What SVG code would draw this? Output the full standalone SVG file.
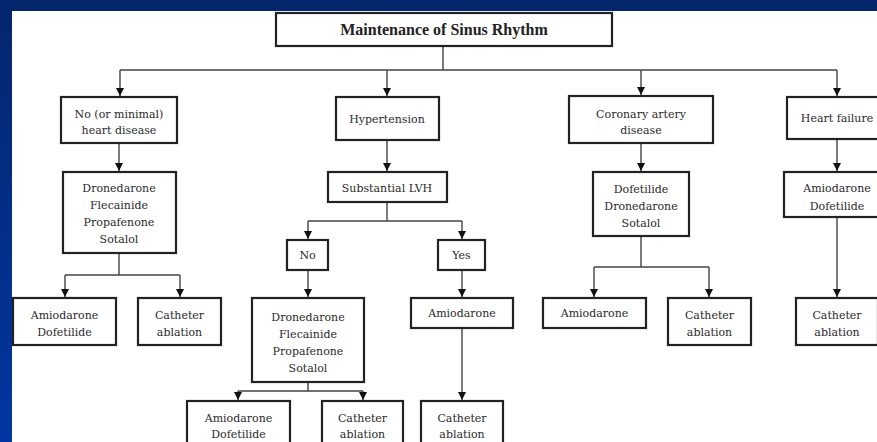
<svg xmlns="http://www.w3.org/2000/svg" width="877" height="442" viewBox="0 0 877 442">
<defs>
<linearGradient id="lg" x1="0" y1="0" x2="0" y2="1">
<stop offset="0" stop-color="#03266c"/>
<stop offset="1" stop-color="#0236a2"/>
</linearGradient>
<marker id="ar" markerUnits="userSpaceOnUse" markerWidth="8" markerHeight="8" refX="8" refY="4" orient="auto" viewBox="0 0 8 8">
<path d="M0,0 L8,4 L0,8 Z" fill="#111"/>
</marker>
<style>
.box{fill:#fff;stroke:#222;stroke-width:2.2}
.t{font-family:"DejaVu Serif","Liberation Serif",serif;font-size:11px;fill:#2a2a2a;text-anchor:middle}
.title{font-family:"Liberation Serif","Times New Roman",serif;font-size:16px;font-weight:bold;fill:#222;text-anchor:middle}
.c{fill:none;stroke:#444;stroke-width:1.4}
.a{marker-end:url(#ar)}
</style>
</defs>
<rect x="0" y="0" width="877" height="442" fill="url(#lg)"/>
<rect x="0" y="0" width="877" height="11" fill="#03266c"/>
<rect x="12" y="11" width="865" height="431" fill="#fff"/>

<g id="connectors">
<path class="c" d="M443,46 V70 M120,70 H837"/>
<path class="c a" d="M120,70 V96"/>
<path class="c a" d="M387,70 V96"/>
<path class="c a" d="M641,70 V95"/>
<path class="c a" d="M837,70 V96"/>
<path class="c a" d="M119,143 V171"/>
<path class="c" d="M119,253 V275 M65,275 H180"/>
<path class="c a" d="M65,275 V297"/>
<path class="c a" d="M180,275 V297"/>
<path class="c a" d="M387,140 V171"/>
<path class="c" d="M387,202 V221 M308,221 H462"/>
<path class="c a" d="M308,221 V239"/>
<path class="c a" d="M462,221 V239"/>
<path class="c a" d="M308,270 V297"/>
<path class="c" d="M308,382 V391 M238,391 H363"/>
<path class="c a" d="M238,391 V400"/>
<path class="c a" d="M363,391 V400"/>
<path class="c a" d="M462,270 V297"/>
<path class="c a" d="M462,328 V400"/>
<path class="c a" d="M641,143 V171"/>
<path class="c" d="M641,236 V267 M594,267 H709"/>
<path class="c a" d="M594,267 V297"/>
<path class="c a" d="M709,267 V297"/>
<path class="c a" d="M837,139 V171"/>
<path class="c a" d="M837,217 V297"/>
</g>

<g id="title"><rect class="box" x="276" y="13" width="336" height="33"/><text class="title" x="444" y="35">Maintenance of Sinus Rhythm</text></g>

<g id="no-heart-disease"><rect class="box" x="61" y="97" width="116" height="46"/><text class="t" x="119" y="118">No (or minimal)</text><text class="t" x="119" y="134">heart disease</text></g>
<g id="hypertension"><rect class="box" x="336" y="97" width="103" height="43"/><text class="t" x="387" y="123">Hypertension</text></g>
<g id="cad"><rect class="box" x="569" y="96" width="144" height="47"/><text class="t" x="641" y="118">Coronary artery</text><text class="t" x="641" y="134">disease</text></g>
<g id="heart-failure"><rect class="box" x="787" y="97" width="100" height="42"/><text class="t" x="837" y="122">Heart failure</text></g>

<g id="drugs-1"><rect class="box" x="63" y="172" width="113" height="81"/><text class="t" x="119" y="192">Dronedarone</text><text class="t" x="119" y="209">Flecainide</text><text class="t" x="119" y="226">Propafenone</text><text class="t" x="119" y="243">Sotalol</text></g>
<g id="lvh"><rect class="box" x="328" y="172" width="119" height="30"/><text class="t" x="387" y="192">Substantial LVH</text></g>
<g id="drugs-cad"><rect class="box" x="593" y="172" width="96" height="64"/><text class="t" x="641" y="193">Dofetilide</text><text class="t" x="641" y="210">Dronedarone</text><text class="t" x="641" y="227">Sotalol</text></g>
<g id="drugs-hf"><rect class="box" x="784" y="172" width="106" height="45"/><text class="t" x="837" y="192">Amiodarone</text><text class="t" x="837" y="210">Dofetilide</text></g>

<g id="no"><rect class="box" x="287" y="240" width="41" height="30"/><text class="t" x="307.5" y="259">No</text></g>
<g id="yes"><rect class="box" x="438" y="240" width="47" height="30"/><text class="t" x="461.5" y="259">Yes</text></g>

<g id="amio-dof-1"><rect class="box" x="13" y="298" width="103" height="47"/><text class="t" x="64.5" y="319">Amiodarone</text><text class="t" x="64.5" y="336">Dofetilide</text></g>
<g id="cath-1"><rect class="box" x="138" y="298" width="83" height="47"/><text class="t" x="179.5" y="319">Catheter</text><text class="t" x="179.5" y="336">ablation</text></g>
<g id="drugs-2"><rect class="box" x="252" y="298" width="112" height="84"/><text class="t" x="308" y="321">Dronedarone</text><text class="t" x="308" y="338">Flecainide</text><text class="t" x="308" y="355">Propafenone</text><text class="t" x="308" y="372">Sotalol</text></g>
<g id="amio-yes"><rect class="box" x="411" y="298" width="102" height="30"/><text class="t" x="462" y="317">Amiodarone</text></g>
<g id="amio-cad"><rect class="box" x="543" y="298" width="103" height="30"/><text class="t" x="594.5" y="317">Amiodarone</text></g>
<g id="cath-cad"><rect class="box" x="668" y="298" width="83" height="47"/><text class="t" x="709.5" y="319">Catheter</text><text class="t" x="709.5" y="336">ablation</text></g>
<g id="cath-hf"><rect class="box" x="796" y="298" width="82" height="47"/><text class="t" x="837" y="319">Catheter</text><text class="t" x="837" y="336">ablation</text></g>

<g id="amio-dof-2"><rect class="box" x="187" y="401" width="103" height="52"/><text class="t" x="238.5" y="422">Amiodarone</text><text class="t" x="238.5" y="438">Dofetilide</text></g>
<g id="cath-2"><rect class="box" x="322" y="401" width="81" height="52"/><text class="t" x="362.5" y="422">Catheter</text><text class="t" x="362.5" y="438">ablation</text></g>
<g id="cath-yes"><rect class="box" x="421" y="401" width="82" height="52"/><text class="t" x="462" y="422">Catheter</text><text class="t" x="462" y="438">ablation</text></g>
</svg>
